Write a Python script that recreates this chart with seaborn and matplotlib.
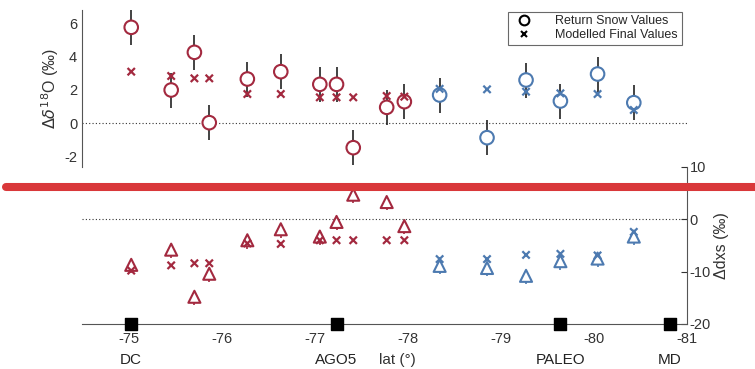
import numpy as np
import pandas as pd
import matplotlib.pyplot as plt
import seaborn as sns
from matplotlib.lines import Line2D

sns.set_style("white")
plt.rcParams['font.family'] = ['Liberation Sans', 'DejaVu Sans']
plt.rcParams['axes.unicode_minus'] = False

# latitude of each site (deg)
lat = [-75.02, -75.45, -75.70, -75.86, -76.27, -76.63, -77.05, -77.23, -77.41,
       -77.77, -77.96, -78.34, -78.85, -79.27, -79.64, -80.04, -80.43]
# region group: first 11 red, last 6 blue
group = ["red"] * 11 + ["blue"] * 6

# d18O differences
d18o_obs = [5.74, 1.98, 4.24, 0.02, 2.64, 3.08, 2.32, 2.32, -1.48,
            0.94, 1.28, 1.68, -0.88, 2.58, 1.32, 2.94, 1.22]
d18o_err = [1.05] * 17
d18o_mod = [3.08, 2.82, 2.68, 2.68, 1.74, 1.74, 1.54, 1.54, 1.54,
            1.62, 1.58, 2.05, 2.02, 1.88, 1.78, 1.74, 0.78]

# dxs differences
dxs_obs = [-8.7, -5.8, -14.8, -10.4, -4.0, -1.9, -3.3, -0.5, 4.7,
           3.3, -1.3, -8.9, -9.3, -10.8, -8.0, -7.5, -3.3]
dxs_err = [1.0] * 17
dxs_mod = [-9.8, -8.8, -8.4, -8.4, -4.6, -4.7, -4.0, -4.0, -4.0,
           -4.0, -4.0, -7.6, -7.6, -6.8, -6.6, -6.9, -2.4]

# station markers
stations = ["DC", "AGO5", "PALEO", "MD"]
station_lat = [-75.02, -77.23, -79.64, -80.82]

df = pd.DataFrame({"lat": lat, "group": group,
                   "d18o_obs": d18o_obs, "d18o_err": d18o_err, "d18o_mod": d18o_mod,
                   "dxs_obs": dxs_obs, "dxs_err": dxs_err, "dxs_mod": dxs_mod})

palette = {"red": "#a3293f", "blue": "#4d7ab0"}
edge_cols = [palette[g] for g in df["group"]]

fig = plt.figure(figsize=(7.55, 3.69), dpi=100)
ax1 = fig.add_axes([0.1086, 0.5474, 0.801, 0.4255])
ax2 = fig.add_axes([0.1086, 0.122, 0.801, 0.4255])
for ax in (ax1, ax2):
    ax.set_facecolor("none")
    ax.set_xlim(-74.49, -81)

# ---- top panel: d18O
ax1.axhline(0, color="#333333", lw=0.8, ls=(0, (1, 2)), zorder=1)
ax1.errorbar(df["lat"], df["d18o_obs"], yerr=df["d18o_err"], fmt="none",
             ecolor="#222222", elinewidth=1.2, zorder=2)
sns.scatterplot(data=df, x="lat", y="d18o_obs", hue="group", palette=palette,
                marker="o", s=95, legend=False, ax=ax1, zorder=4)
coll = ax1.collections[-1]
coll.set_facecolor("white")
coll.set_edgecolor(edge_cols)
coll.set_linewidth(1.5)
sns.scatterplot(data=df, x="lat", y="d18o_mod", hue="group", palette=palette,
                marker="x", s=28, linewidth=1.6, legend=False, ax=ax1, zorder=5)
ax1.set_ylim(-2.64, 6.78)
ax1.set_yticks([-2, 0, 2, 4, 6])
ax1.set_xticks([])
ax1.set_xlabel("")
ax1.set_ylabel(r"$\Delta\delta^{18}$O (‰)", fontsize=11.5, color="#333333", labelpad=2)
for s in ["top", "right", "bottom"]:
    ax1.spines[s].set_visible(False)
ax1.spines["left"].set_color("#555555")
ax1.tick_params(axis="y", direction="in", length=4, labelsize=10.5, colors="#333333")

handles = [Line2D([], [], marker="o", ls="none", mfc="white", mec="black", ms=7, mew=1.5),
           Line2D([], [], marker="x", ls="none", color="black", ms=5, mew=1.5)]
leg = ax1.legend(handles, ["Return Snow Values", "Modelled Final Values"],
                 loc="upper right", bbox_to_anchor=(1.002, 1.03), fontsize=9,
                 frameon=True, fancybox=False, borderpad=0.3, handletextpad=1.5,
                 labelspacing=0.15)
leg.get_frame().set_edgecolor("#444444")
leg.get_frame().set_linewidth(0.8)

# ---- bottom panel: dxs
ax2.axhline(0, color="#333333", lw=0.8, ls=(0, (1, 2)), zorder=1)
for g in ["red", "blue"]:
    sub = df[df["group"] == g]
    ax2.errorbar(sub["lat"], sub["dxs_obs"] - 0.6, yerr=sub["dxs_err"], fmt="none",
                 ecolor=palette[g], elinewidth=1.2, zorder=2)
sns.scatterplot(data=df, x="lat", y="dxs_obs", hue="group", palette=palette,
                marker="^", s=75, legend=False, ax=ax2, zorder=4)
coll = ax2.collections[-1]
coll.set_facecolor("white")
coll.set_edgecolor(edge_cols)
coll.set_linewidth(1.5)
sns.scatterplot(data=df, x="lat", y="dxs_mod", hue="group", palette=palette,
                marker="x", s=28, linewidth=1.6, legend=False, ax=ax2, zorder=5)

ax2.scatter(station_lat, [-20] * 4, marker="s", s=80, color="black",
            zorder=6, clip_on=False)
ax2.set_ylim(-20, 10)
ax2.set_yticks([-20, -10, 0, 10])
ax2.yaxis.tick_right()
ax2.yaxis.set_label_position("right")
ax2.set_ylabel("Δdxs (‰)", fontsize=11.5, color="#333333", labelpad=2)
ax2.set_xticks([-75, -76, -77, -78, -79, -80, -81])
ax2.set_xticklabels(["-75", "-76", "-77", "-78", "-79", "-80", "-81"])
ax2.set_xlabel("")
for s in ["top", "left"]:
    ax2.spines[s].set_visible(False)
ax2.spines["right"].set_color("#555555")
ax2.spines["bottom"].set_color("#555555")
ax2.tick_params(axis="y", direction="in", length=4, labelsize=10.5, colors="#333333", pad=2)
ax2.tick_params(axis="x", direction="in", length=4, labelsize=10.5, colors="#333333", pad=6)

for name, x in zip(stations, station_lat):
    ax2.text(x, -26.8, name, ha="center", va="center", fontsize=11, color="#222222")
ax2.text(-77.88, -26.8, "lat (°)", ha="center", va="center", fontsize=11, color="#333333")

# red separator
fig.add_artist(Line2D([0.008, 1.0], [0.493, 0.493], color="#d9383a", lw=5.8,
                      transform=fig.transFigure))

fig.savefig("out.png", dpi=100)
